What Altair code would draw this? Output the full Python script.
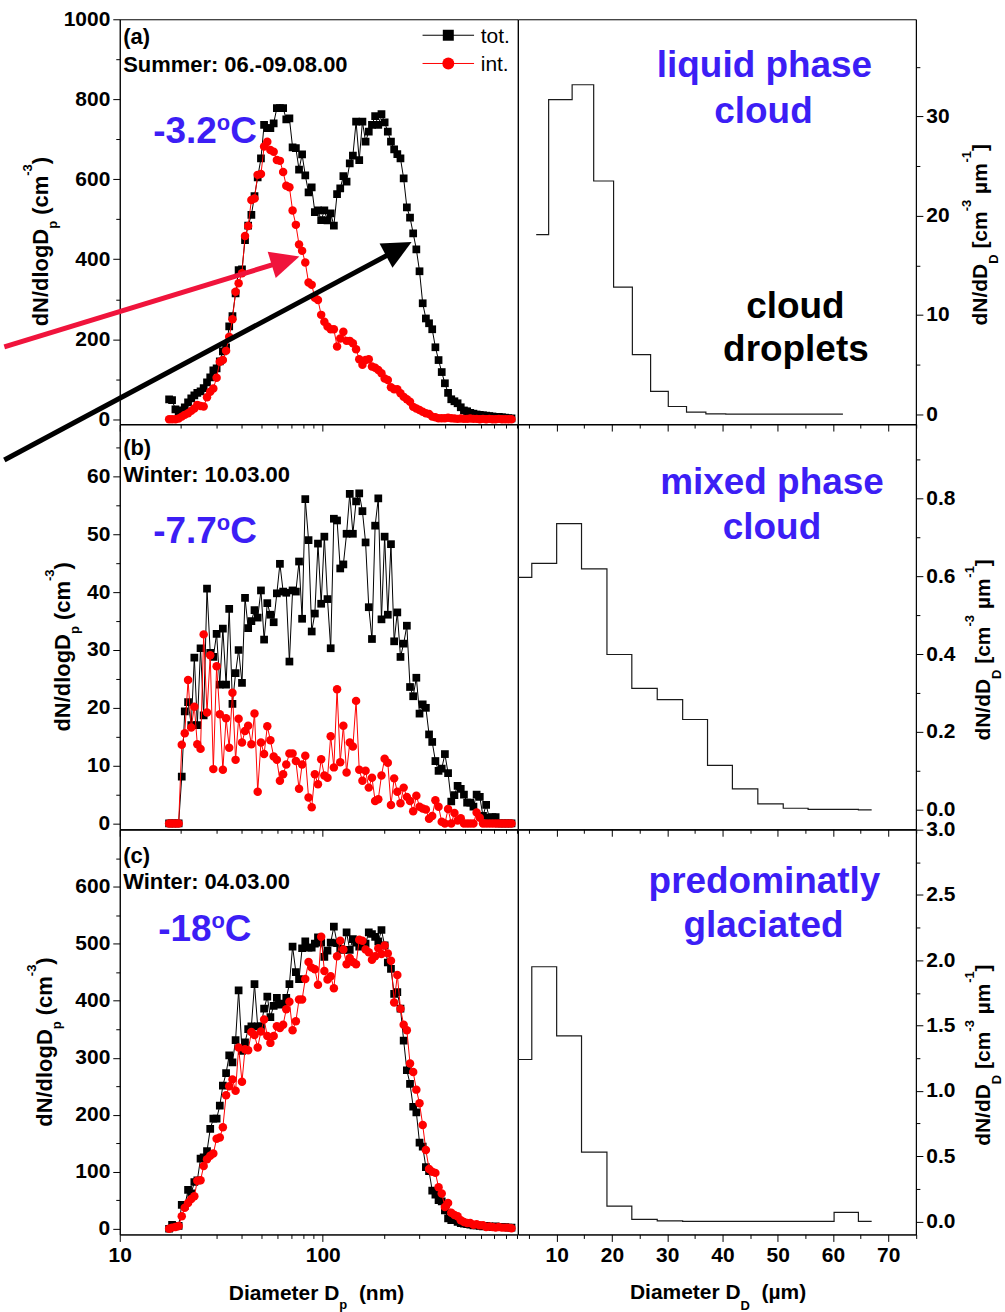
import altair as alt
import pandas as pd

FONT = "Liberation Sans"
BLUE = "#3C1EF5"
RED = "#FF0000"
ARROW_RED = "#F0143C"
W_PANEL = 398.7
H_PANEL = 405.6

# ---------------- SMPS size channels (nm) ----------------
diam_nm = [
    17.5, 18.1, 18.8, 19.5, 20.2, 20.9, 21.7, 22.5, 23.3, 24.1,
    25.0, 25.9, 26.9, 27.9, 28.9, 30.0, 31.1, 32.2, 33.4, 34.6,
    35.9, 37.2, 38.5, 40.0, 41.4, 42.9, 44.5, 46.1, 47.8, 49.6,
    51.4, 53.3, 55.2, 57.3, 59.4, 61.5, 63.8, 66.1, 68.5, 71.0,
    73.7, 76.4, 79.1, 82.0, 85.1, 88.2, 91.4, 94.7, 98.2, 101.8,
    105.5, 109.4, 113.4, 117.6, 121.9, 126.3, 131.0, 135.8, 140.7, 145.9,
    151.2, 156.8, 162.5, 168.5, 174.7, 181.1, 187.7, 194.6, 201.7, 209.1,
    216.7, 224.7, 232.9, 241.4, 250.3, 259.5, 269.0, 278.8, 289.0, 299.6,
    310.6, 322.0, 333.8, 346.0, 358.7, 371.8, 385.4, 399.5, 414.2, 429.4,
    445.1, 461.4, 478.3, 495.8, 514.0, 532.8, 552.3, 572.5, 593.5, 615.3,
    637.8, 661.2, 685.4, 710.5, 736.5, 763.5, 791.5, 820.5, 850.5]

# (a) Summer 06.-09.08.00
tot_a = [
    50, 48, 25, 15, 22, 30, 42, 52, 60, 66,
    70, 78, 92, 105, 122, 127, 145, 170, 180, 232,
    258, 315, 373, 375, 448, 484, 511, 558, 605, 652,
    736, 728, 728, 740, 778, 778, 778, 750, 752, 680,
    678, 624, 662, 610, 567, 580, 518, 522, 498, 522,
    497, 515, 484, 563, 577, 608, 594, 640, 659, 744,
    648, 744, 694, 719, 736, 758, 736, 763, 742, 719,
    694, 675, 663, 652, 602, 530, 504, 465, 425, 370,
    290, 252, 240, 225, 180, 148, 118, 90, 66, 50,
    45, 40, 30, 22, 20, 16, 14, 12, 11, 10,
    9, 8, 7, 6, 6, 5, 4, 3, 2]
int_a = [
    0, 0, 0, 2, 6.6, 11, 15, 21, 27, 36,
    33, 32, 55, 69, 77, 104, 144, 148, 171, 206,
    250, 319, 340, 365, 458, 483, 548, 552, 611, 613,
    682, 694, 673, 669, 648, 646, 618, 584, 580, 522,
    486, 437, 421, 392, 342, 336, 304, 298, 261, 244,
    232, 225, 225, 182, 202, 219, 196, 196, 190, 175,
    150, 136, 148, 150, 132, 129, 123, 115, 102, 98,
    80, 75, 75, 65, 56, 50, 44, 31, 27, 23,
    19, 15, 13, 6.6, 5, 2.5, 2.5, 2.5, 4, 2.5,
    2, 1, 2, 1, 1, 2, 1, 1, 0, 1,
    0, 1, 0, 0, 1, 0, 0, 0, 0]

# (b) Winter 10.03.00
tot_b = [
    0, 0, 0, 0,
    8.1, 19.4, 21, 17, 28.7, 17, 30.3, 18.7, 40.6, 29.5,
    28.8, 32.8, 24, 33.7, 24, 37.1, 20.7, 26, 30, 24.3,
    39, 33.8, 35, 36.9, 35.6, 40.3, 31.8, 38.1, 36.1, 34.8,
    39.8, 44.9, 40.1, 39.9, 28, 40.3, 40.1, 45.3, 35.4, 56.1,
    49, 33.2, 36.3, 48.4, 38, 49.6, 38.8, 30.3, 52.7, 52.4,
    44.1, 44.8, 50.1, 57, 50.1, 55.7, 57.1, 54, 48.6, 37.4,
    31.9, 51.5, 56.2, 35.3, 49.6, 36.1, 48.3, 31.5, 36.5, 28.8,
    31.1, 34.2, 23.6, 22, 25.2, 19, 20.6, 20, 15.4, 14.1,
    10.8, 9.1, 9.5, 12, 8.7, 3.8, 4.9, 6.5, 6, 5,
    3.6, 3.6, 2.9, 5, 4.6, 1.3, 3.2, 1, 1.1, 1.1,
    0, 0, 0, 0, 0]
int_b = [
    0, 0, 0, 0,
    13.6, 15.6, 24.8, 16.6, 20.2, 13.7, 12.9, 32.7, 19.2, 29.1,
    9.4, 27.2, 18.9, 9.3, 18.2, 13.1, 22.6, 11, 18.1, 14,
    16, 16.9, 13.7, 19, 5.5, 14, 12, 16.8, 14.4, 11.6,
    11, 7.4, 8.5, 10.2, 12.1, 12.1, 10.8, 6, 10.2, 11.7,
    4.5, 2.8, 8.5, 6.8, 11.1, 8.3, 7.9, 15.1, 9.7, 23.2,
    10.6, 16.9, 8.8, 14, 13.3, 21.2, 9.3, 7.4, 9.1, 6.2,
    7.9, 3.9, 4.2, 8.3, 11.2, 10.5, 3.2, 7.8, 5.5, 3.5,
    6.2, 4.6, 3.9, 2.1, 4.8, 2.9, 2.6, 2.4, 0.8, 1.3,
    4, 2.9, 0.3, 0, 2.5, 0, 1.8, 0.5, 0.9, 0,
    0, 0, 0, 1.9, 1,
    0, 0, 0, 0, 0, 0, 0, 0, 0, 0]

# (c) Winter 04.03.00
tot_c = [
    0, 7, 4, 5, 42, 40, 68, 62, 82, 85,
    123, 125, 136, 175, 193, 193, 216, 251, 273, 304,
    292, 331, 418, 312, 327, 350, 355, 429, 355, 355,
    386, 407, 371, 391, 405, 393, 395, 405, 429, 495,
    450, 438, 492, 504, 493, 493, 500, 511, 502, 477,
    488, 502, 530, 501, 491, 489, 520, 489, 508, 502,
    495, 500, 500, 520, 517, 512, 504, 524, 497, 467,
    456, 412, 415, 386, 330, 278, 254, 214, 204, 151,
    144, 108, 101, 67, 60, 50, 48, 32, 18, 15,
    16, 12, 10, 9, 8, 7, 6, 6, 5, 4,
    5, 4, 3, 4, 3, 3, 3, 2, 2]
int_c = [
    0, 2, 3, 5, 22, 37, 45, 52, 57, 84,
    85, 110, 122, 128, 132, 158, 160, 178, 234, 250,
    262, 242, 318, 258, 315, 313, 345, 340, 318, 346,
    367, 338, 326, 338, 355, 352, 358, 385, 398, 348,
    364, 402, 402, 438, 468, 458, 455, 428, 512, 452,
    437, 443, 422, 478, 505, 490, 464, 475, 468, 464,
    507, 505, 490, 485, 472, 478, 492, 482, 497, 483,
    470, 397, 445, 386, 358, 348, 290, 275, 244, 220,
    182, 138, 105, 100, 98, 73, 62, 38, 45, 28,
    24, 22, 15, 12, 10, 10, 7, 8, 6, 6,
    3, 4, 3, 2, 3, 2, 2, 2, 1]

# ---------------- droplet spectra (left bin edges, dN/dD) ----------------
edges_a = [6.3, 8.55, 12.8, 16.7, 20.3, 23.7, 27.0, 30.2, 33.5, 37.0, 40.6, 61.8]
dndd_a = [18.1, 31.7, 33.2, 23.5, 12.8, 6.0, 2.3, 0.77, 0.2, 0.03, 0.0, 0.0]
edges_bc = [3.0, 5.5, 10.0, 14.5, 19.1, 23.6, 28.2, 32.8, 37.3, 41.8, 46.4, 51.0, 55.5, 60.2, 64.6, 67.0]
dndd_b = [0.597, 0.633, 0.735, 0.619, 0.399, 0.312, 0.283, 0.232, 0.114, 0.054, 0.015, 0.004, 0.001, 0.001, 0.0, 0.0]
dndd_c = [1.24, 1.95, 1.42, 0.53, 0.117, 0.015, 0.004, 0.0, 0.0, 0.0, 0.0, 0.0, 0.0, 0.069, 0.0, 0.0]

# annotation arrows in panel (a) data coordinates: tail, shaft end, tip
arrow_red_D = [2.70, 65.3, 76.7]
arrow_red_v = [181, 396, 407]
arrow_blk_D = [2.70, 235.9, 273.8]
arrow_blk_v = [-102, 425, 443]

# ---------------- axis tick sets ----------------
xL_ticks = [10, 20, 30, 40, 50, 60, 70, 80, 90, 100, 200, 300, 400, 500, 600, 700, 800, 900]
xL_test = "datum.value == 10 || datum.value == 100"
xR_ticks = [5, 10, 15, 20, 25, 30, 35, 40, 45, 50, 55, 60, 65, 70, 75]
xR_test = "datum.value % 10 == 0"
yLa_ticks = [0, 100, 200, 300, 400, 500, 600, 700, 800, 900, 1000]
yLb_ticks = [0, 5, 10, 15, 20, 25, 30, 35, 40, 45, 50, 55, 60, 65]
yLc_ticks = [0, 50, 100, 150, 200, 250, 300, 350, 400, 450, 500, 550, 600, 650]
yRa_ticks = [0, 5, 10, 15, 20, 25, 30, 35]
yRb_ticks = [0, 0.1, 0.2, 0.3, 0.4, 0.5, 0.6, 0.7, 0.8, 0.9]
yRc_ticks = [0, 0.25, 0.5, 0.75, 1.0, 1.25, 1.5, 1.75, 2.0, 2.25, 2.5, 2.75, 3.0]

ONE = pd.DataFrame({"k": [0]})
WID = {' ': 0.278, '(': 0.333, ')': 0.333, '[': 0.333, ']': 0.333, '-': 0.333,
       '1': 0.556, '3': 0.556, 'c': 0.556, 'm': 0.889, 'µ': 0.611, 'p': 0.611,
       'D': 0.722, 'n': 0.611, 'o': 0.611, 'C': 0.722}


def tw(s, size):
    return sum(WID.get(c, 0.6) for c in s) * size


def cond(test, a, b):
    return {"condition": {"test": test, "value": a}, "value": b}


def make_axis(values, test, orient, labels=True, fmt=None):
    kw = dict(values=values, orient=orient, title=None, grid=False,
              tickSize=cond(test, 7, 4), labelFlush=False, labelOverlap=False)
    if labels:
        kw["labelExpr"] = f"({test}) ? datum.label : ''"
        if fmt:
            kw["format"] = fmt
    else:
        kw["labels"] = False
    return alt.Axis(**kw)


def text(s, x, y, size, color="black", weight="bold", align="left", angle=0, dx=0, dy=0):
    kw = dict(text=s, font=FONT, fontSize=size, fontWeight=weight, color=color,
              align=align, baseline="alphabetic", dx=dx, dy=dy)
    if angle:
        kw["angle"] = angle
    return alt.Chart(ONE).mark_text(**kw).encode(x=alt.value(x), y=alt.value(y))


def rich(head, tail, x, y, size, color="black", angle=0):
    """head is right-aligned at the anchor; tail segments (text, size, baseline shift) follow."""
    out = [text(head, x, y, size, color, align="right", angle=angle)]
    off = 0.0
    for s, sz, shift in tail:
        stripped = s.lstrip(" ")
        off += tw(s[: len(s) - len(stripped)], sz)  # leading spaces -> offset (SVG trims them)
        out.append(text(stripped, x, y, sz, color, align="left", angle=angle, dx=round(off, 1), dy=shift))
        off += tw(stripped, sz)
    return out


def left_panel(tot, inn, ydom, yvals, ytest, show_x):
    n = len(diam_nm)
    df = pd.DataFrame({"D": diam_nm + diam_nm, "v": tot + inn,
                       "s": ["tot"] * n + ["int"] * n})
    xenc = alt.X("D:Q", scale=alt.Scale(type="log", domain=[10, 912], nice=False),
                 axis=make_axis(xL_ticks, xL_test, "bottom", labels=show_x))
    yenc = alt.Y("v:Q", scale=alt.Scale(domain=ydom, nice=False, zero=False),
                 axis=make_axis(yvals, ytest, "left", fmt="d"))
    base = alt.Chart(df).encode(x=xenc, y=yenc)
    tb = base.transform_filter(alt.datum.s == "tot")
    ib = base.transform_filter(alt.datum.s == "int")
    layers = [
        tb.mark_line(color="black", strokeWidth=1, clip=True),
        tb.mark_point(shape="square", filled=True, size=60, color="black", opacity=1, clip=True),
        ib.mark_line(color=RED, strokeWidth=1, clip=True),
        ib.mark_point(shape="circle", filled=True, size=72, color=RED, opacity=1, clip=True),
    ]
    return layers, xenc, yenc


def right_panel(edges, vals, ydom, yvals, ytest, fmt, show_x):
    df = pd.DataFrame({"d": edges, "n": vals})
    xenc = alt.X("d:Q", scale=alt.Scale(domain=[3, 75], nice=False, zero=False),
                 axis=make_axis(xR_ticks, xR_test, "bottom", labels=show_x, fmt="d"))
    yenc = alt.Y("n:Q", scale=alt.Scale(domain=ydom, nice=False, zero=False),
                 axis=make_axis(yvals, ytest, "right", fmt=fmt))
    return [alt.Chart(df).mark_line(interpolate="step-after", color="#1a1a1a",
                                    strokeWidth=1.2, clip=True).encode(x=xenc, y=yenc)]


HEAD = "M0,0L-2,-0.95L-2,0.95Z"


def arrow(Ds, vs, color, ang, xenc, yenc):
    shaft = pd.DataFrame({"D": Ds[:2], "v": vs[:2]})
    tip = pd.DataFrame({"D": [Ds[2]], "v": [vs[2]]})
    return [
        alt.Chart(shaft).mark_line(color=color, strokeWidth=5, strokeCap="butt").encode(x=xenc, y=yenc),
        alt.Chart(tip).mark_point(shape=HEAD, filled=True, size=841, angle=ang, color=color,
                                  opacity=1, strokeWidth=0).encode(x=xenc, y=yenc),
    ]


def left_title(x, y):
    return rich("dN/dlogD", [("p", 13, 9), (" (cm", 22, 0), ("-3", 13, -16), (")", 22, 0)],
                x, y, 22, angle=270)


def right_title(x, y):
    return rich("dN/dD", [("D", 13, 11), (" [cm", 21, 0), ("-3", 13, -16), (" µm", 21, 0),
                          ("-1", 13, -16), ("]", 21, 0)], x, y, 21, angle=270)


# ---------------- panel (a) ----------------
la, xa, ya = left_panel(tot_a, int_a, [-12, 1000], yLa_ticks, "datum.value % 200 == 0", False)
la += arrow(arrow_red_D, arrow_red_v, ARROW_RED, 343, xa, ya)
la += arrow(arrow_blk_D, arrow_blk_v, "black", 332, xa, ya)
la += [
    alt.Chart(ONE).mark_rule(color="black", strokeWidth=1).encode(x=alt.value(303.4), x2=alt.value(355), y=alt.value(16)),
    alt.Chart(ONE).mark_point(shape="square", filled=True, size=121, color="black", opacity=1).encode(x=alt.value(329.2), y=alt.value(16)),
    text("tot.", 361.7, 23.7, 21, weight="normal"),
    alt.Chart(ONE).mark_rule(color=RED, strokeWidth=1).encode(x=alt.value(303.4), x2=alt.value(355), y=alt.value(44.3)),
    alt.Chart(ONE).mark_point(shape="circle", filled=True, size=144, color=RED, opacity=1).encode(x=alt.value(329.2), y=alt.value(44.3)),
    text("int.", 361.7, 52, 21, weight="normal"),
    text("(a)", 3.4, 24.3, 22),
    text("Summer: 06.-09.08.00", 3.4, 52.7, 22),
]
la += rich("-3.2", [("o", 22, -13), ("C", 37, 0)], 97.2, 123.7, 37, color=BLUE)
la += left_title(-72.3, 210)
pa_l = alt.layer(*la).properties(width=W_PANEL, height=H_PANEL)

ra = right_panel(edges_a, dndd_a, [-1, 39.8], yRa_ticks, "datum.value % 10 == 0", "d", False)
ra += [
    text("liquid phase", 247, 58.3, 37, color=BLUE, align="center"),
    text("cloud", 246, 104.3, 37, color=BLUE, align="center"),
    text("cloud", 278, 299.3, 37, align="center"),
    text("droplets", 278.5, 342.7, 37, align="center"),
]
ra += right_title(470, 245)
pa_r = alt.layer(*ra).properties(width=W_PANEL, height=H_PANEL)

# ---------------- panel (b) ----------------
lb, xb, yb = left_panel(tot_b, int_b, [-1, 69], yLb_ticks, "datum.value % 10 == 0", False)
lb += [text("(b)", 3.4, 30.7, 22), text("Winter: 10.03.00", 3.4, 57.4, 22)]
lb += rich("-7.7", [("o", 22, -13), ("C", 37, 0)], 97.2, 118.4, 37, color=BLUE)
lb += left_title(-50.3, 210)
pb_l = alt.layer(*lb).properties(width=W_PANEL, height=H_PANEL)

rb = right_panel(edges_bc, dndd_b, [-0.05, 0.99], yRb_ticks, "round(datum.value * 10) % 2 == 0", ".1f", False)
rb += [
    text("mixed phase", 254.5, 69.7, 37, color=BLUE, align="center"),
    text("cloud", 254.5, 114.7, 37, color=BLUE, align="center"),
]
rb += right_title(473, 255)
pb_r = alt.layer(*rb).properties(width=W_PANEL, height=H_PANEL)

# ---------------- panel (c) ----------------
lc, xc, yc = left_panel(tot_c, int_c, [-10, 700], yLc_ticks, "datum.value % 100 == 0", True)
lc += [text("(c)", 3.4, 33.6, 22), text("Winter: 04.03.00", 3.4, 59.3, 22)]
lc += rich("-18", [("o", 22, -13), ("C", 37, 0)], 91.9, 111.6, 37, color=BLUE)
lc += left_title(-68.3, 200)
lc += rich("Diameter D", [("p", 13, 9), ("  (nm)", 21, 0)], 220, 471, 21)
pc_l = alt.layer(*lc).properties(width=W_PANEL, height=H_PANEL)

rc = right_panel(edges_bc, dndd_c, [-0.1, 3.0], yRc_ticks, "round(datum.value * 4) % 2 == 0", ".1f", True)
rc += [
    text("predominatly", 247, 63.6, 37, color=BLUE, align="center"),
    text("glaciated", 246, 107.6, 37, color=BLUE, align="center"),
]
rc += right_title(473, 255)
rc += rich("Diameter D", [("D", 13, 11), ("  (µm)", 21, 0)], 223, 470.3, 21)
pc_r = alt.layer(*rc).properties(width=W_PANEL, height=H_PANEL)

chart = alt.concat(pa_l, pa_r, pb_l, pb_r, pc_l, pc_r, columns=2, spacing=0, bounds="flush").properties(
    padding={"left": -7, "top": 6, "right": 0, "bottom": 0}
).configure_view(stroke="black", strokeWidth=1).configure_axis(
    labelFont=FONT, labelFontSize=21, labelFontWeight="bold", labelColor="black",
    tickColor="black", domainColor="black", tickWidth=1, domainWidth=1, labelPadding=3
)

chart.save("out.html", embed_options={"renderer": "svg", "actions": False})
